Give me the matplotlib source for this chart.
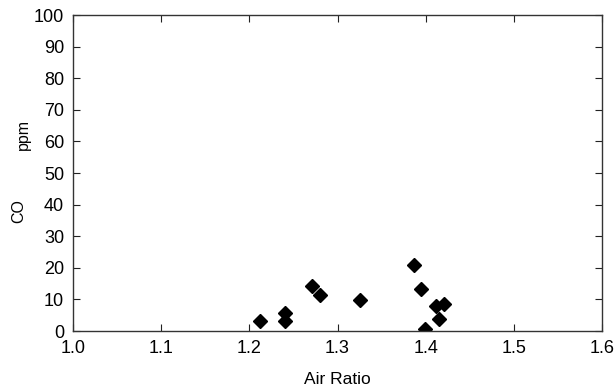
import matplotlib
matplotlib.use('Agg')
import matplotlib.pyplot as plt

air_ratio = [1.212, 1.241, 1.241, 1.271, 1.280, 1.326, 1.387, 1.395, 1.399, 1.412, 1.415, 1.421]
co_ppm = [3.3, 5.7, 3.2, 14.3, 11.3, 9.7, 20.9, 13.2, 0.6, 8.0, 3.7, 8.6]
xticks = [1.0, 1.1, 1.2, 1.3, 1.4, 1.5, 1.6]
yticks = list(range(0, 101, 10))

plt.rcParams['font.family'] = ['Liberation Sans', 'DejaVu Sans']

fig = plt.figure(figsize=(6.16, 3.89), dpi=100)
ax = fig.add_axes([73 / 616, 58 / 389, 529 / 616, 316 / 389])
ax.plot(air_ratio, co_ppm, 'D', color='black', markersize=7, linestyle='none')

ax.set_xlim(1.0, 1.6)
ax.set_ylim(0, 100)
ax.set_xticks(xticks)
ax.set_xticklabels(['%.1f' % v for v in xticks])
ax.set_yticks(yticks)
ax.tick_params(direction='in', top=True, right=True, length=5, labelsize=13,
               pad=6.5, color='#222222')
for s in ax.spines.values():
    s.set_color('#333333')
    s.set_linewidth(1.0)
ax.set_xlabel('Air Ratio', fontsize=12.5, labelpad=11)

# y label is two separate words in the original
fig.text(19 / 616, 1 - 211.5 / 389, 'CO', rotation=90, fontsize=11.5, ha='center', va='center')
fig.text(23 / 616, 1 - 134 / 389, 'ppm', rotation=90, fontsize=11.5, ha='center', va='center')

fig.savefig('out.png', dpi=100)
